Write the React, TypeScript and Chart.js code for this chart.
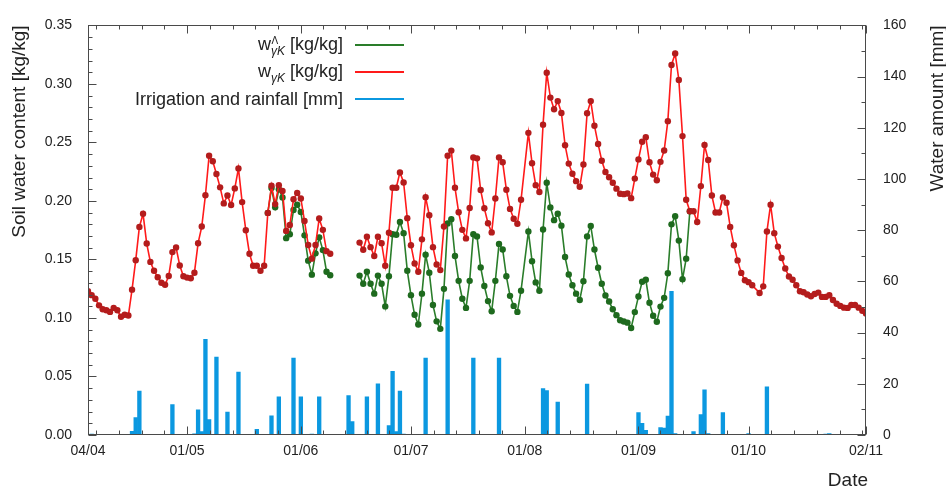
import React, { useEffect, useRef } from 'react';
import { Chart, registerables } from 'chart.js';

Chart.register(...registerables);

// ---- axis ticks ----
const xMajorDays = [0, 27, 58, 88, 119, 150, 180, 212];
const xMajorLabels = ['04/04', '01/05', '01/06', '01/07', '01/08', '01/09', '01/10', '02/11'];
const leftTicks = [0, 0.05, 0.1, 0.15, 0.2, 0.25, 0.3, 0.35];
const rightTicks = [0, 20, 40, 60, 80, 100, 120, 140, 160];

// ---- w_gammaK (red), day index counted from 04/04 ----
const redStart1 = 0;
const redValues1 = [
  0.1228, 0.1195, 0.1164, 0.1108, 0.1074, 0.1066, 0.1052, 0.1086, 0.1066, 0.1010,
  0.1027, 0.1021, 0.1242, 0.1493, 0.1778, 0.1890, 0.1636, 0.1479, 0.1404, 0.1348,
  0.1301, 0.1284, 0.1359, 0.1563, 0.1602, 0.1449, 0.1357, 0.1345, 0.1340, 0.1387,
  0.1639, 0.1781, 0.2049, 0.2386, 0.2339, 0.2230, 0.2116, 0.1979, 0.2046, 0.1965,
  0.2107, 0.2278, 0.1990, 0.1750, 0.1549, 0.1446, 0.1446, 0.1404, 0.1446, 0.1898,
  0.2130, 0.1973, 0.2135, 0.2085, 0.1744, 0.1794, 0.2015, 0.2068, 0.2021, 0.1828,
  0.1624, 0.1507, 0.1624, 0.1850, 0.1753, 0.1571, 0.1549,
];
const redStart2 = 74;
const redValues2 = [
  0.1644, 0.1583, 0.1694, 0.1605, 0.1530, 0.1694, 0.1639, 0.1446, 0.1728, 0.2113,
  0.2113, 0.2244, 0.2158, 0.1853, 0.1622, 0.1465, 0.1395, 0.1672, 0.2032, 0.1878,
  0.1605, 0.1457, 0.1409, 0.1782, 0.2386, 0.2430, 0.2113, 0.1903, 0.1753, 0.1680,
  0.1940, 0.2372, 0.2364, 0.2093, 0.1937, 0.1809, 0.1731, 0.2021, 0.2372, 0.2330,
  0.2096, 0.1932, 0.1848, 0.1805, 0.2010, null, 0.2582, 0.2322, 0.2135, 0.2077,
  0.2652, 0.3096, 0.2883, 0.2783, 0.2853, 0.2752, 0.2476, 0.2319, 0.2233, 0.2169,
  0.2121, 0.2311, 0.2749, 0.2853, 0.2643, 0.2487, 0.2344, 0.2247, 0.2202, 0.2155,
  0.2105, 0.2061, 0.2058, 0.2063, 0.2024, 0.2191, 0.2355, 0.2506, 0.2545, 0.2330,
  0.2225, 0.2177, 0.2334, 0.2431, 0.2682, 0.3162, 0.3260, 0.3034, 0.2554, 0.2010,
  0.1912, 0.1912, 0.1820, 0.2127, 0.2478, 0.2350, 0.2046, 0.1901, 0.1901, 0.2029,
  0.1984, 0.1778, 0.1622, 0.1492, 0.1385, 0.1322, 0.1306, 0.1279, null, 0.1214,
  0.1270, 0.1739, 0.1968, 0.1725, 0.1610, 0.1513, 0.1423, 0.1354, 0.1326, 0.1279,
  0.1228, 0.1220, 0.1200, 0.1186, 0.1205, 0.1217, 0.1180, 0.1180, 0.1194, 0.1153,
  0.1122, 0.1103, 0.1088, 0.1086, 0.1111, 0.1111, 0.1088, 0.1061, 0.1038,
];

// ---- w^Lambda_gammaK (green) ----
const greenStart1 = 49;
const greenValues1 = [
  0.1898, 0.2110, 0.1946, 0.2100, 0.2030, 0.1682, 0.1715, 0.1923, 0.1968, 0.1906,
  0.1706, 0.1490, 0.1370, 0.1552, 0.1689, 0.1580, 0.1395, 0.1365,
];
const greenStart2 = 74;
const greenValues2 = [
  0.1362, 0.1292, 0.1395, 0.1292, 0.1208, 0.1362, 0.1292, 0.1099, 0.1356, 0.1716,
  0.1711, 0.1820, 0.1725, 0.1404, 0.1195, 0.1027, 0.0944, 0.1208, 0.1541, 0.1387,
  0.1111, 0.0971, 0.0907, 0.1249, 0.1808, 0.1844, 0.1530, 0.1317, 0.1164, 0.1086,
  0.1317, 0.1716, 0.1697, 0.1432, 0.1273, 0.1144, 0.1058, 0.1317, 0.1633, 0.1585,
  0.1356, 0.1189, 0.1103, 0.1052, 0.1233, null, 0.1739, 0.1485, 0.1304, 0.1233,
  0.1756, 0.2155, 0.1945, 0.1836, 0.1890, 0.1789, 0.1521, 0.1371, 0.1279, 0.1208,
  0.1153, 0.1314, 0.1697, 0.1786, 0.1585, 0.1429, 0.1292, 0.1192, 0.1141, 0.1074,
  0.1024, 0.0980, 0.0970, 0.0960, 0.0914, 0.1050, 0.1184, 0.1309, 0.1326, 0.1130,
  0.1019, 0.0968, 0.1097, 0.1172, 0.1382, 0.1800, 0.1870, 0.1661, 0.1331, 0.1507,
  0.1912,
];

// ---- irrigation and rainfall [mm] ----
const rainDays = [
  1, 12, 13, 14, 23, 29, 30, 31, 32, 33, 35, 38, 41, 46, 50, 52, 56, 58, 61, 63,
  71, 72, 76, 79, 82, 83, 84, 85, 86, 92, 98, 105, 112, 124, 125, 128, 136, 150, 151, 152,
  156, 157, 158, 159, 160, 164, 165, 167, 168, 169, 173, 174, 180, 185, 190, 193, 197, 201, 202,
];
const rainValues = [
  0.4, 1.4, 6.8, 17.2, 11.9, 0.5, 9.8, 1.3, 37.4, 6.0, 30.4, 9.0, 24.6, 2.2, 7.5, 14.9, 30.0, 14.9, 0.4, 14.9,
  15.4, 5.2, 14.9, 20.0, 3.7, 24.9, 1.3, 17.2, 0.4, 30.0, 52.8, 30.0, 30.0, 18.1, 17.4, 12.9, 19.9, 8.8, 4.6, 1.8,
  2.9, 2.7, 7.4, 56.1, 0.6, 0.3, 1.3, 8.0, 17.6, 0.6, 8.8, 0.3, 0.6, 18.8, 0.3, 0.3, 0.3, 0.4, 0.6,
];

const FONT = '"Liberation Sans", Arial, Helvetica, sans-serif';
const TEXT = '#222222';

const toPoints = (start: number, vals: (number | null)[]) =>
  vals
    .map((v, i) => (v == null ? null : { x: start + i, y: v }))
    .filter((p) => p !== null) as { x: number; y: number }[];

function minorXTicks(): number[] {
  const out: number[] = [];
  for (let k = 1; k <= 4; k++) out.push(xMajorDays[1] - 6.2 * k);
  for (let i = 1; i < xMajorDays.length - 2; i++) {
    const a = xMajorDays[i];
    const b = xMajorDays[i + 1];
    for (let k = 1; k < 5; k++) out.push(a + ((b - a) * k) / 5);
  }
  const last = xMajorDays[xMajorDays.length - 2];
  for (let k = 1; k <= 5; k++) out.push(last + 6.2 * k);
  return out;
}

const framePlugin = {
  id: 'gnuFrame',
  afterDatasetsDraw(chart: any) {
    const { ctx, chartArea: a, scales } = chart;
    const sx = scales.x;
    const sy = scales.y;
    const sy2 = scales.y2;
    const L = Math.round(a.left) + 0.5;
    const R = Math.round(a.right) - 0.5;
    const T = Math.round(a.top) + 0.5;
    const B = Math.round(a.bottom) - 0.5;
    ctx.save();
    ctx.strokeStyle = '#4a4a4a';
    ctx.lineWidth = 1;
    ctx.beginPath();
    const seg = (x1: number, y1: number, x2: number, y2: number) => {
      ctx.moveTo(x1, y1);
      ctx.lineTo(x2, y2);
    };
    const MAJ = 8;
    const MIN = 4;
    xMajorDays.forEach((d) => {
      const px = Math.round(sx.getPixelForValue(d)) + 0.5;
      seg(px, B, px, B - MAJ);
      seg(px, T, px, T + MAJ);
    });
    minorXTicks().forEach((d) => {
      const px = Math.round(sx.getPixelForValue(d)) + 0.5;
      seg(px, B, px, B - MIN);
      seg(px, T, px, T + MIN);
    });
    for (let i = 0; i <= 35; i++) {
      const v = i / 100;
      const py = Math.round(sy.getPixelForValue(v)) + 0.5;
      seg(L, py, L + (i % 5 === 0 ? MAJ : MIN), py);
    }
    for (let v = 0; v <= 160; v += 10) {
      const py = Math.round(sy2.getPixelForValue(v)) + 0.5;
      seg(R, py, R - (v % 20 === 0 ? MAJ : MIN), py);
    }
    ctx.stroke();
    ctx.strokeRect(L, T, R - L, B - T);
    ctx.restore();
  },
  afterDraw(chart: any) {
    const { ctx, chartArea: a } = chart;
    ctx.save();
    ctx.fillStyle = TEXT;
    ctx.font = `19px ${FONT}`;
    ctx.textBaseline = 'middle';
    ctx.save();
    ctx.translate(20, a.top);
    ctx.rotate(-Math.PI / 2);
    ctx.textAlign = 'right';
    ctx.fillText('Soil water content [kg/kg]', 0, 0);
    ctx.restore();
    ctx.save();
    ctx.translate(938, a.top);
    ctx.rotate(-Math.PI / 2);
    ctx.textAlign = 'right';
    ctx.fillText('Water amount [mm]', 0, 0);
    ctx.restore();
    ctx.textAlign = 'right';
    ctx.fillText('Date', a.right + 2, 481);

    const right = 343;
    const lx1 = 355;
    const lx2 = 404;
    const rows = [45, 71.5, 98.5];
    const colors = ['#2a7d2a', '#ff1a1a', '#0b98e0'];
    ctx.textAlign = 'left';
    ctx.textBaseline = 'alphabetic';
    for (let r = 0; r < 2; r++) {
      const yy = rows[r];
      ctx.font = `18px ${FONT}`;
      const tail = ' [kg/kg]';
      const wTail = ctx.measureText(tail).width;
      const wW = ctx.measureText('w').width;
      ctx.font = `italic 12px ${FONT}`;
      const wSub = ctx.measureText('γK').width;
      const start = right - wTail - wSub - wW;
      ctx.font = `18px ${FONT}`;
      ctx.fillText('w', start, yy + 5);
      ctx.font = `italic 12px ${FONT}`;
      ctx.fillText('γK', start + wW, yy + 10);
      if (r === 0) {
        ctx.font = `10px ${FONT}`;
        ctx.fillText('Λ', start + wW + 0.5, yy - 1.5);
      }
      ctx.font = `18px ${FONT}`;
      ctx.fillText(tail, start + wW + wSub, yy + 5);
    }
    ctx.font = `18px ${FONT}`;
    ctx.textAlign = 'right';
    ctx.fillText('Irrigation and rainfall [mm]', right, rows[2] + 6);
    ctx.lineWidth = 2;
    rows.forEach((yy, i) => {
      ctx.strokeStyle = colors[i];
      ctx.beginPath();
      ctx.moveTo(lx1, Math.round(yy));
      ctx.lineTo(lx2, Math.round(yy));
      ctx.stroke();
    });
    ctx.restore();
  },
};

export default function App() {
  const ref = useRef<HTMLCanvasElement | null>(null);

  useEffect(() => {
    if (!ref.current) return;
    const redData = [...toPoints(redStart1, redValues1), ...toPoints(redStart2, redValues2)];
    const greenData = [...toPoints(greenStart1, greenValues1), ...toPoints(greenStart2, greenValues2)];
    const rainData = rainDays.map((d, i) => ({ x: d, y: rainValues[i] }));

    const chart = new Chart(ref.current, {
      type: 'bar',
      data: {
        datasets: [
          {
            type: 'line',
            label: 'w^Λ_γK [kg/kg]',
            data: greenData,
            yAxisID: 'y',
            borderColor: '#2a7d2a',
            borderWidth: 1.6,
            pointRadius: 3.2,
            pointBorderWidth: 0,
            pointBackgroundColor: '#1e6a1e',
            tension: 0,
            spanGaps: 2,
            order: 2,
          } as any,
          {
            type: 'line',
            label: 'w_γK [kg/kg]',
            data: redData,
            yAxisID: 'y',
            borderColor: '#ff1a1a',
            borderWidth: 1.6,
            pointRadius: 3.2,
            pointBorderWidth: 0,
            pointBackgroundColor: '#b41c1c',
            tension: 0,
            spanGaps: 2,
            order: 1,
          } as any,
          {
            type: 'bar',
            label: 'Irrigation and rainfall [mm]',
            data: rainData,
            yAxisID: 'y2',
            backgroundColor: '#0b98e0',
            borderWidth: 0,
            barPercentage: 1,
            categoryPercentage: 1,
            order: 3,
          } as any,
        ],
      },
      options: {
        animation: false,
        responsive: true,
        maintainAspectRatio: false,
        layout: { padding: { top: 17, left: 0, right: 0, bottom: 0 } },
        plugins: {
          legend: { display: false },
          tooltip: { enabled: false },
          title: { display: false },
        },
        scales: {
          x: {
            type: 'linear',
            min: 0,
            max: 212,
            offset: false,
            position: 'bottom',
            grid: { display: false, drawTicks: false },
            border: { display: false },
            ticks: {
              autoSkip: false,
              maxRotation: 0,
              minRotation: 0,
              padding: 8,
              color: TEXT,
              font: { family: FONT, size: 14 },
              callback: (v: any) => {
                const i = xMajorDays.indexOf(Number(v));
                return i >= 0 ? xMajorLabels[i] : '';
              },
            },
            afterBuildTicks: (s: any) => {
              s.ticks = xMajorDays.map((v) => ({ value: v }));
            },
            afterFit: (s: any) => {
              s.height = 55;
            },
          },
          y: {
            type: 'linear',
            position: 'left',
            min: 0,
            max: 0.35,
            grid: { display: false, drawTicks: false },
            border: { display: false },
            ticks: {
              padding: 16,
              color: TEXT,
              font: { family: FONT, size: 14 },
              callback: (v: any) => Number(v).toFixed(2),
            },
            afterBuildTicks: (s: any) => {
              s.ticks = leftTicks.map((v) => ({ value: v }));
            },
            afterFit: (s: any) => {
              s.width = 88;
            },
          },
          y2: {
            type: 'linear',
            position: 'right',
            min: 0,
            max: 160,
            grid: { display: false, drawTicks: false },
            border: { display: false },
            ticks: {
              padding: 17,
              color: TEXT,
              font: { family: FONT, size: 14 },
              callback: (v: any) => String(v),
            },
            afterBuildTicks: (s: any) => {
              s.ticks = rightTicks.map((v) => ({ value: v }));
            },
            afterFit: (s: any) => {
              s.width = 80;
            },
          },
        },
      } as any,
      plugins: [framePlugin],
    });
    return () => chart.destroy();
  }, []);

  return (
    <div style={{ position: 'fixed', left: 0, top: 0, width: 946, height: 490, background: '#ffffff' }}>
      <canvas ref={ref} />
    </div>
  );
}
